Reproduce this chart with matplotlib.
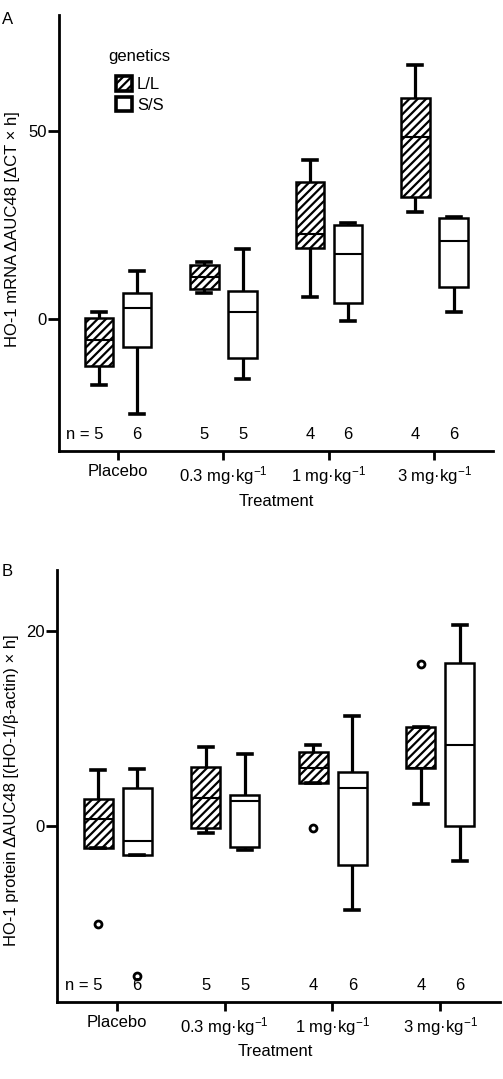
import numpy as np
import matplotlib
matplotlib.use("Agg")
import matplotlib.pyplot as plt
from matplotlib.patches import Patch

plt.rcParams['font.family'] = ['Liberation Sans', 'DejaVu Sans']
plt.rcParams['mathtext.fontset'] = 'custom'
plt.rcParams['mathtext.rm'] = 'Liberation Sans'
plt.rcParams['mathtext.it'] = 'Liberation Sans'
plt.rcParams['hatch.linewidth'] = 1.6

FS = 12

## Treatments and genotypes
treatments = ['Placebo', r'0.3 mg·kg$^{-1}$', r'1 mg·kg$^{-1}$', r'3 mg·kg$^{-1}$']
genetics = ['L/L', 'S/S']
n_ll = [5, 5, 4, 4]
n_ss = [6, 5, 6, 6]

## Panel A : HO-1 mRNA, (whislo, q1, med, q3, whishi)
a_ll = [(-17.5, -12.4, -5.5, 0.3, 2.0),
        (7.1, 8.0, 11.3, 14.3, 15.3),
        (5.8, 18.9, 22.6, 36.4, 42.4),
        (28.6, 32.5, 48.6, 58.9, 67.6)]
a_ss = [(-25.3, -7.3, 3.1, 6.9, 12.7),
        (-15.9, -10.4, 1.9, 7.5, 18.7),
        (-0.6, 4.4, 17.3, 25.0, 25.6),
        (1.9, 8.7, 20.9, 26.9, 27.2)]
a_ll_fliers = [[], [], [], []]
a_ss_fliers = [[], [], [], []]

## Panel B : HO-1 protein
b_ll = [(-2.3, -2.3, 0.7, 2.74, 5.7),
        (-0.75, -0.27, 2.85, 6.0, 8.1),
        (4.36, 4.36, 5.9, 7.62, 8.27),
        (2.26, 5.93, 5.93, 10.15, 10.15)]
b_ss = [(-2.98, -2.98, -1.61, 3.88, 5.83),
        (-2.54, -2.2, 2.5, 3.12, 7.38),
        (-8.64, -4.08, 3.88, 5.49, 11.25),
        (-3.6, 0.0, 8.27, 16.74, 20.6)]
b_ll_fliers = [[-10.1], [], [-0.27], [16.6]]
b_ss_fliers = [[-15.5], [], [], []]


def stats(rows, fliers):
    return [dict(whislo=r[0], q1=r[1], med=r[2], q3=r[3], whishi=r[4], fliers=f)
            for r, f in zip(rows, fliers)]


def draw_panel(ax, ll, ll_f, ss, ss_f, ylim, yticks, ylabel, n_y):
    pos = np.arange(len(treatments))
    lw = 1.8
    common = dict(widths=0.27, capwidths=0.13, patch_artist=True,
                  whiskerprops=dict(color='black', lw=2.3, solid_capstyle='butt'),
                  capprops=dict(color='black', lw=2.6),
                  medianprops=dict(color='black', lw=1.5),
                  flierprops=dict(marker='o', markerfacecolor='white', markeredgecolor='black',
                                  markeredgewidth=2.0, markersize=5))
    b1 = ax.bxp(stats(ll, ll_f), positions=pos - 0.178, **common)
    for p in b1['boxes']:
        p.set(facecolor='white', edgecolor='black', hatch='////', lw=lw)
    b2 = ax.bxp(stats(ss, ss_f), positions=pos + 0.185, **common)
    for p in b2['boxes']:
        p.set(facecolor='white', edgecolor='black', lw=lw)

    for i in range(len(treatments)):
        label = f'n = {n_ll[i]}' if i == 0 else str(n_ll[i])
        ax.annotate(label, (pos[i] - 0.178, n_y), xytext=(3.4 if i == 0 else 0, 0),
                    textcoords='offset points', ha='right' if i == 0 else 'center',
                    va='center', fontsize=FS)
        ax.annotate(str(n_ss[i]), (pos[i] + 0.185, n_y), ha='center', va='center', fontsize=FS)

    ax.set_xlim(-0.555, 3.558)
    ax.set_ylim(*ylim)
    ax.set_xticks(pos)
    ax.set_xticklabels(treatments, fontsize=FS)
    ax.set_yticks(yticks)
    ax.set_yticklabels([str(t) for t in yticks], fontsize=FS)
    ax.tick_params(axis='x', length=6.5, width=2.0, pad=3)
    ax.tick_params(axis='y', length=8, width=2.0, pad=1)
    for s in ['top', 'right']:
        ax.spines[s].set_visible(False)
    for s in ['left', 'bottom']:
        ax.spines[s].set_linewidth(2.0)
    ax.set_xlabel('Treatment', fontsize=FS)
    ax.set_ylabel(ylabel, fontsize=FS)


fig = plt.figure(figsize=(5.03, 10.79), dpi=100)
W, H = 503, 1079

axA = fig.add_axes([59 / W, 1 - 451 / H, 434 / W, 436 / H])
draw_panel(axA, a_ll, a_ll_fliers, a_ss, a_ss_fliers, (-35.1, 81), [0, 50],
           r'HO-1 mRNA ΔAUC48 [ΔCT × h]', -30.8)
axA.yaxis.set_label_coords(-0.09, 0.51)
axA.xaxis.set_label_coords(0.5, -0.099)

handles = [Patch(facecolor='white', edgecolor='black', hatch='////', lw=2.6, label=genetics[0]),
           Patch(facecolor='white', edgecolor='black', lw=2.6, label=genetics[1])]
leg = axA.legend(handles=handles, title='genetics', frameon=False, fontsize=FS,
                 title_fontsize=FS, handlelength=0.95, handleheight=0.95,
                 handletextpad=0.3, labelspacing=0.3, borderaxespad=0,
                 loc='upper left', bbox_to_anchor=(102 / W, 1 - 42 / H),
                 bbox_transform=fig.transFigure)
leg._legend_box.sep = 9

axB = fig.add_axes([57 / W, 1 - 1001.7 / H, 443 / W, 431.7 / H])
draw_panel(axB, b_ll, b_ll_fliers, b_ss, b_ss_fliers, (-18.1, 26.3), [0, 20],
           r'HO-1 protein ΔAUC48 [(HO-1/β-actin) × h]', -16.4)
axB.set_xlim(-0.56, 3.558)
axB.yaxis.set_label_coords(-0.086, 0.49)
axB.xaxis.set_label_coords(0.492, -0.099)

fig.text(2 / W, 1 - 20 / H, 'A', fontsize=FS, va='center', ha='left')
fig.text(2 / W, 1 - 572 / H, 'B', fontsize=FS, va='center', ha='left')

fig.savefig('out.png', dpi=100)
